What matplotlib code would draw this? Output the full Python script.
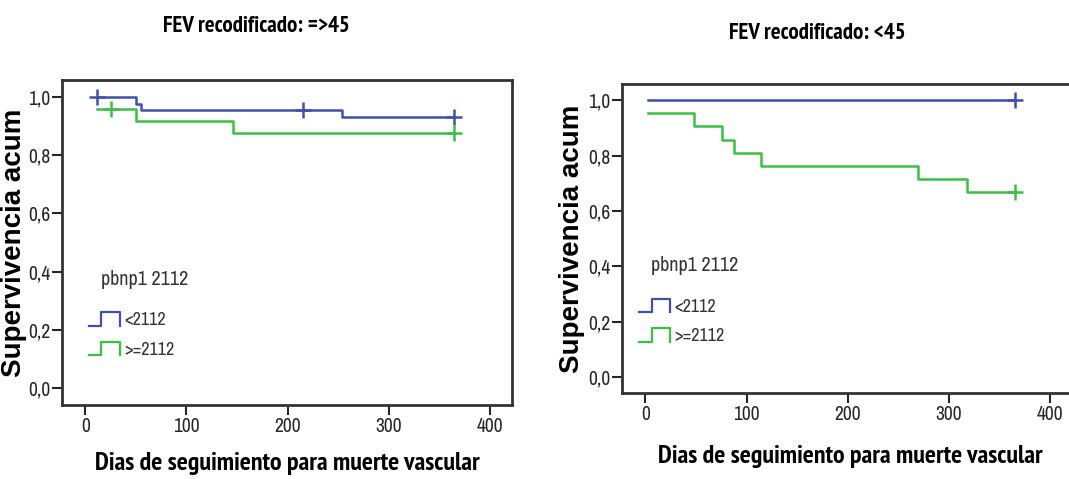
import matplotlib
matplotlib.use('Agg')
import matplotlib.pyplot as plt
from matplotlib import font_manager
from matplotlib.lines import Line2D
from matplotlib.legend_handler import HandlerBase

# Kaplan-Meier step data
left_blue_t = [12, 50, 55, 254, 365]
left_blue_s = [1.0, 0.977, 0.955, 0.930, 0.930]
left_blue_cens_t = [12, 215, 365]
left_blue_cens_s = [1.0, 0.955, 0.930]

left_green_t = [12, 50, 146, 365]
left_green_s = [0.960, 0.917, 0.875, 0.875]
left_green_cens_t = [25, 365]
left_green_cens_s = [0.960, 0.875]

right_blue_t = [3, 365]
right_blue_s = [1.0, 1.0]
right_blue_cens_t = [365]
right_blue_cens_s = [1.0]

right_green_t = [3, 48, 76, 88, 114, 270, 318, 365]
right_green_s = [0.952, 0.905, 0.857, 0.810, 0.762, 0.714, 0.667, 0.667]
right_green_cens_t = [365]
right_green_cens_s = [0.667]

titles = ['FEV recodificado: =>45', 'FEV recodificado: <45']
group_labels = ['<2112', '>=2112']
legend_title = 'pbnp1 2112'
x_ticks = [0, 100, 200, 300, 400]
y_ticks = [0.0, 0.2, 0.4, 0.6, 0.8, 1.0]

BLUE = '#3f51a8'
GREEN = '#3cbf45'
TXT = '#262626'

names = {f.name for f in font_manager.fontManager.ttflist}


def pick(cands):
    for c in cands:
        if c in names:
            return c
    return 'DejaVu Sans'


narrow = pick(['Liberation Sans Narrow', 'Archivo Narrow', 'PT Sans Narrow', 'Roboto Condensed'])
narrow_bold = pick(['Liberation Sans Narrow', 'PT Sans Narrow', 'Roboto Condensed'])
wide = pick(['Liberation Sans', 'Arimo', 'DejaVu Sans'])
shrink = 1.0 if narrow != 'DejaVu Sans' else 0.8
shrink_b = 1.0 if narrow_bold != 'DejaVu Sans' else 0.8


class StepHandler(HandlerBase):
    def create_artists(self, legend, orig_handle, xdescent, ydescent,
                       width, height, fontsize, trans):
        w, h = width, height
        xs = [0, 0.4 * w, 0.4 * w, w, w]
        ys = [0, 0, h, h, 0]
        ln = Line2D([x - xdescent for x in xs], [y - ydescent for y in ys],
                    color=orig_handle.get_color(), lw=1.6, transform=trans)
        return [ln]


def draw_panel(ax, data, title, title_xy, leg_title_xy, leg_xy, xlab_xy, ylab_xy):
    handles = []
    for t, s, ct, cs, col in data:
        h, = ax.step(t, s, where='post', color=col, lw=1.8)
        ax.plot(ct, cs, linestyle='none', marker='+', markersize=11,
                markeredgewidth=1.8, color=col)
        handles.append(h)
    ax.set_xlim(-23, 422)
    ax.set_ylim(-0.057, 1.058)
    ax.set_xticks(x_ticks)
    ax.set_xticklabels([str(v) for v in x_ticks], fontfamily=narrow, fontsize=14 * shrink)
    ax.set_yticks(y_ticks)
    ax.set_yticklabels([f'{v:.1f}'.replace('.', ',') for v in y_ticks],
                       fontfamily=narrow, fontsize=14 * shrink)
    ax.tick_params(axis='both', direction='out', length=7, width=1.5,
                   colors=TXT, pad=1.5)
    for sp in ax.spines.values():
        sp.set_linewidth(2)
        sp.set_color('#333333')
    ax.set_xlabel('Dias de seguimiento para muerte vascular', fontfamily=narrow_bold,
                  fontweight='bold', fontsize=18.7 * shrink_b, color='black')
    ax.xaxis.set_label_coords(*xlab_xy)
    ax.set_ylabel('Supervivencia acum', fontfamily=wide, fontweight='bold',
                  fontsize=20, color='black')
    ax.yaxis.set_label_coords(*ylab_xy)
    ax.figure.text(title_xy[0], title_xy[1], title, ha='center', va='center',
                   fontfamily=narrow_bold, fontweight='bold', fontsize=16.5 * shrink_b)
    ax.text(leg_title_xy[0], leg_title_xy[1], legend_title, transform=ax.transAxes,
            va='center', fontfamily=narrow, fontsize=14.5 * shrink, color='#333333')
    leg = ax.legend(handles, group_labels, loc='upper left', bbox_to_anchor=leg_xy,
                    borderaxespad=0, borderpad=0, frameon=False,
                    handler_map={h: StepHandler() for h in handles},
                    handlelength=1.7, handleheight=0.75, handletextpad=0.25,
                    labelspacing=0.75, prop={'family': narrow, 'size': 13 * shrink})
    for txt in leg.get_texts():
        txt.set_color('#333333')


fig = plt.figure(figsize=(10.69, 4.79), dpi=100)
ax1 = fig.add_axes([0.058, 0.1545, 0.421, 0.6785])
ax2 = fig.add_axes([0.582, 0.1795, 0.421, 0.645])

draw_panel(ax1, [(left_blue_t, left_blue_s, left_blue_cens_t, left_blue_cens_s, BLUE),
                 (left_green_t, left_green_s, left_green_cens_t, left_green_cens_s, GREEN)],
           titles[0], (0.240, 0.944), (0.087, 0.385), (0.06, 0.285),
           (0.5, -0.145), (-0.078, 0.5))
draw_panel(ax2, [(right_blue_t, right_blue_s, right_blue_cens_t, right_blue_cens_s, BLUE),
                 (right_green_t, right_green_s, right_green_cens_t, right_green_cens_s, GREEN)],
           titles[1], (0.765, 0.931), (0.064, 0.414), (0.038, 0.305),
           (0.507, -0.168), (-0.082, 0.5))

fig.savefig('out.png', dpi=100)
